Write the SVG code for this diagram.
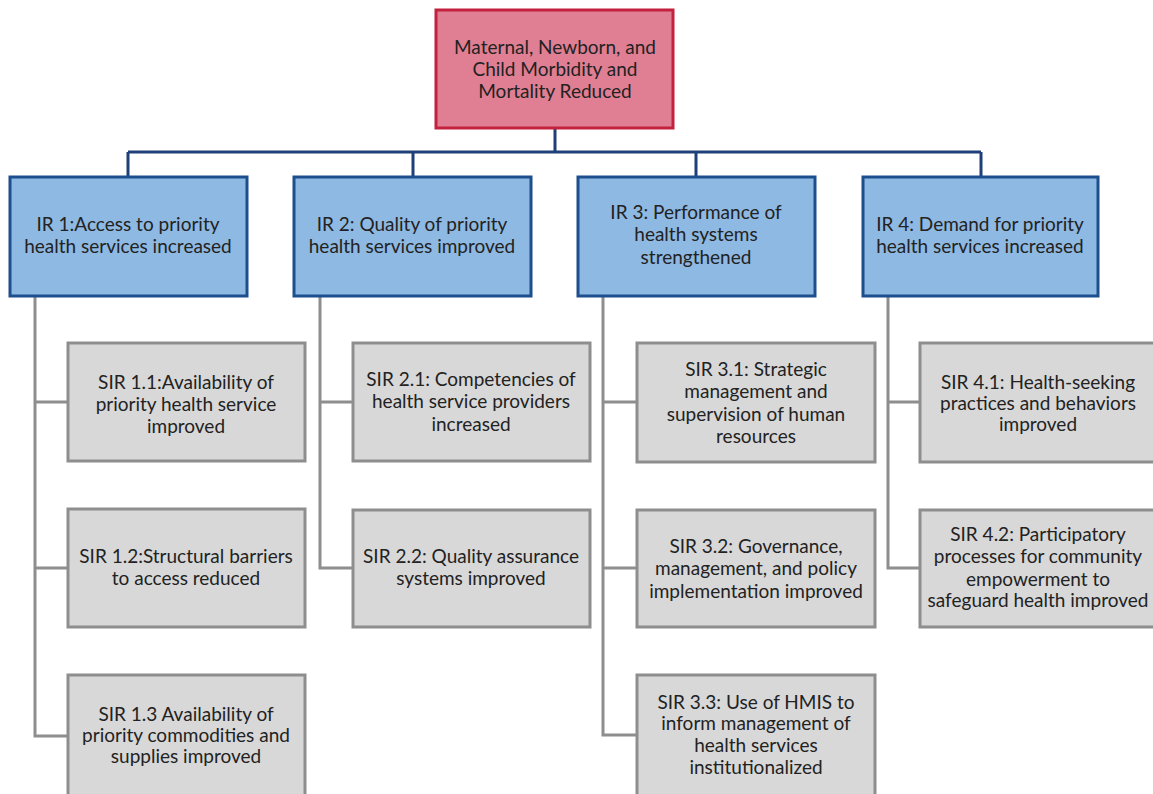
<svg xmlns="http://www.w3.org/2000/svg" width="1153" height="794" viewBox="0 0 1153 794">
<defs>
<style>
text{font-family:"Lato","Open Sans","Liberation Sans",sans-serif;font-size:19px;fill:#222;text-anchor:middle}
.top{fill:#E07F93;stroke:#C4213F;stroke-width:3}
.ir{fill:#8EB9E3;stroke:#1D4F8E;stroke-width:3}
.sir{fill:#D8D8D8;stroke:#8E8E8E;stroke-width:3}
.cb{stroke:#1E3F78;stroke-width:3;fill:none}
.cg{stroke:#8E8E8E;stroke-width:3;fill:none}
</style>
</defs>
<rect width="1153" height="794" fill="#fff"/>
<g id="connectors">
<path class="cb" d="M555 128V152M128 152H981M128 152V177M413 152V177M696 152V177M981 152V177"/>
<path class="cg" d="M35 296V736H68M35 402H68M35 568H68"/>
<path class="cg" d="M320 296V568H353M320 402H353"/>
<path class="cg" d="M603 296V735H637M603 402H637M603 568H637"/>
<path class="cg" d="M888 296V568H920M888 402H920"/>
</g>
<g id="goal"><rect class="top" x="436" y="10" width="237" height="118"/>
<text x="555" y="54">Maternal, Newborn, and</text><text x="555" y="76">Child Morbidity and</text><text x="555" y="98">Mortality Reduced</text></g>
<g id="ir1"><rect class="ir" x="10" y="177" width="237" height="119"/>
<text x="128" y="231">IR 1:Access to priority</text><text x="128" y="253">health services increased</text></g>
<g id="ir2"><rect class="ir" x="294" y="177" width="237" height="119"/>
<text x="412" y="231">IR 2: Quality of priority</text><text x="412" y="253">health services improved</text></g>
<g id="ir3"><rect class="ir" x="578" y="177" width="237" height="119"/>
<text x="696" y="219">IR 3: Performance of</text><text x="696" y="241">health systems</text><text x="696" y="264">strengthened</text></g>
<g id="ir4"><rect class="ir" x="863" y="177" width="235" height="119"/>
<text x="980" y="231">IR 4: Demand for priority</text><text x="980" y="253">health services increased</text></g>
<g id="sir11"><rect class="sir" x="68" y="343" width="237" height="118"/>
<text x="186" y="389">SIR 1.1:Availability of</text><text x="186" y="411">priority health service</text><text x="186" y="433">improved</text></g>
<g id="sir12"><rect class="sir" x="68" y="509" width="237" height="118"/>
<text x="186" y="563">SIR 1.2:Structural barriers</text><text x="186" y="585">to access reduced</text></g>
<g id="sir13"><rect class="sir" x="68" y="675" width="237" height="125"/>
<text x="186" y="721">SIR 1.3 Availability of</text><text x="186" y="742">priority commodities and</text><text x="186" y="763">supplies improved</text></g>
<g id="sir21"><rect class="sir" x="353" y="343" width="237" height="118"/>
<text x="471" y="386">SIR 2.1:  Competencies of</text><text x="471" y="408">health service providers</text><text x="471" y="431">increased</text></g>
<g id="sir22"><rect class="sir" x="353" y="510" width="237" height="117"/>
<text x="471" y="563">SIR 2.2: Quality assurance</text><text x="471" y="585">systems improved</text></g>
<g id="sir31"><rect class="sir" x="637" y="343" width="238" height="119"/>
<text x="756" y="376">SIR 3.1: Strategic</text><text x="756" y="398">management and</text><text x="756" y="421">supervision of human</text><text x="756" y="443">resources</text></g>
<g id="sir32"><rect class="sir" x="637" y="510" width="238" height="117"/>
<text x="756" y="553">SIR 3.2: Governance,</text><text x="756" y="575">management, and policy</text><text x="756" y="598">implementation improved</text></g>
<g id="sir33"><rect class="sir" x="637" y="675" width="238" height="125"/>
<text x="756" y="709">SIR 3.3: Use of HMIS to</text><text x="756" y="730">inform management of</text><text x="756" y="752">health services</text><text x="756" y="774">institutionalized</text></g>
<g id="sir41"><rect class="sir" x="920" y="343" width="240" height="119"/>
<text x="1038" y="389">SIR 4.1: Health-seeking</text><text x="1038" y="410">practices and behaviors</text><text x="1038" y="431">improved</text></g>
<g id="sir42"><rect class="sir" x="920" y="510" width="240" height="117"/>
<text x="1038" y="541">SIR 4.2: Participatory</text><text x="1038" y="563">processes for community</text><text x="1038" y="586">empowerment to</text><text x="1038" y="607">safeguard health improved</text></g>
</svg>
